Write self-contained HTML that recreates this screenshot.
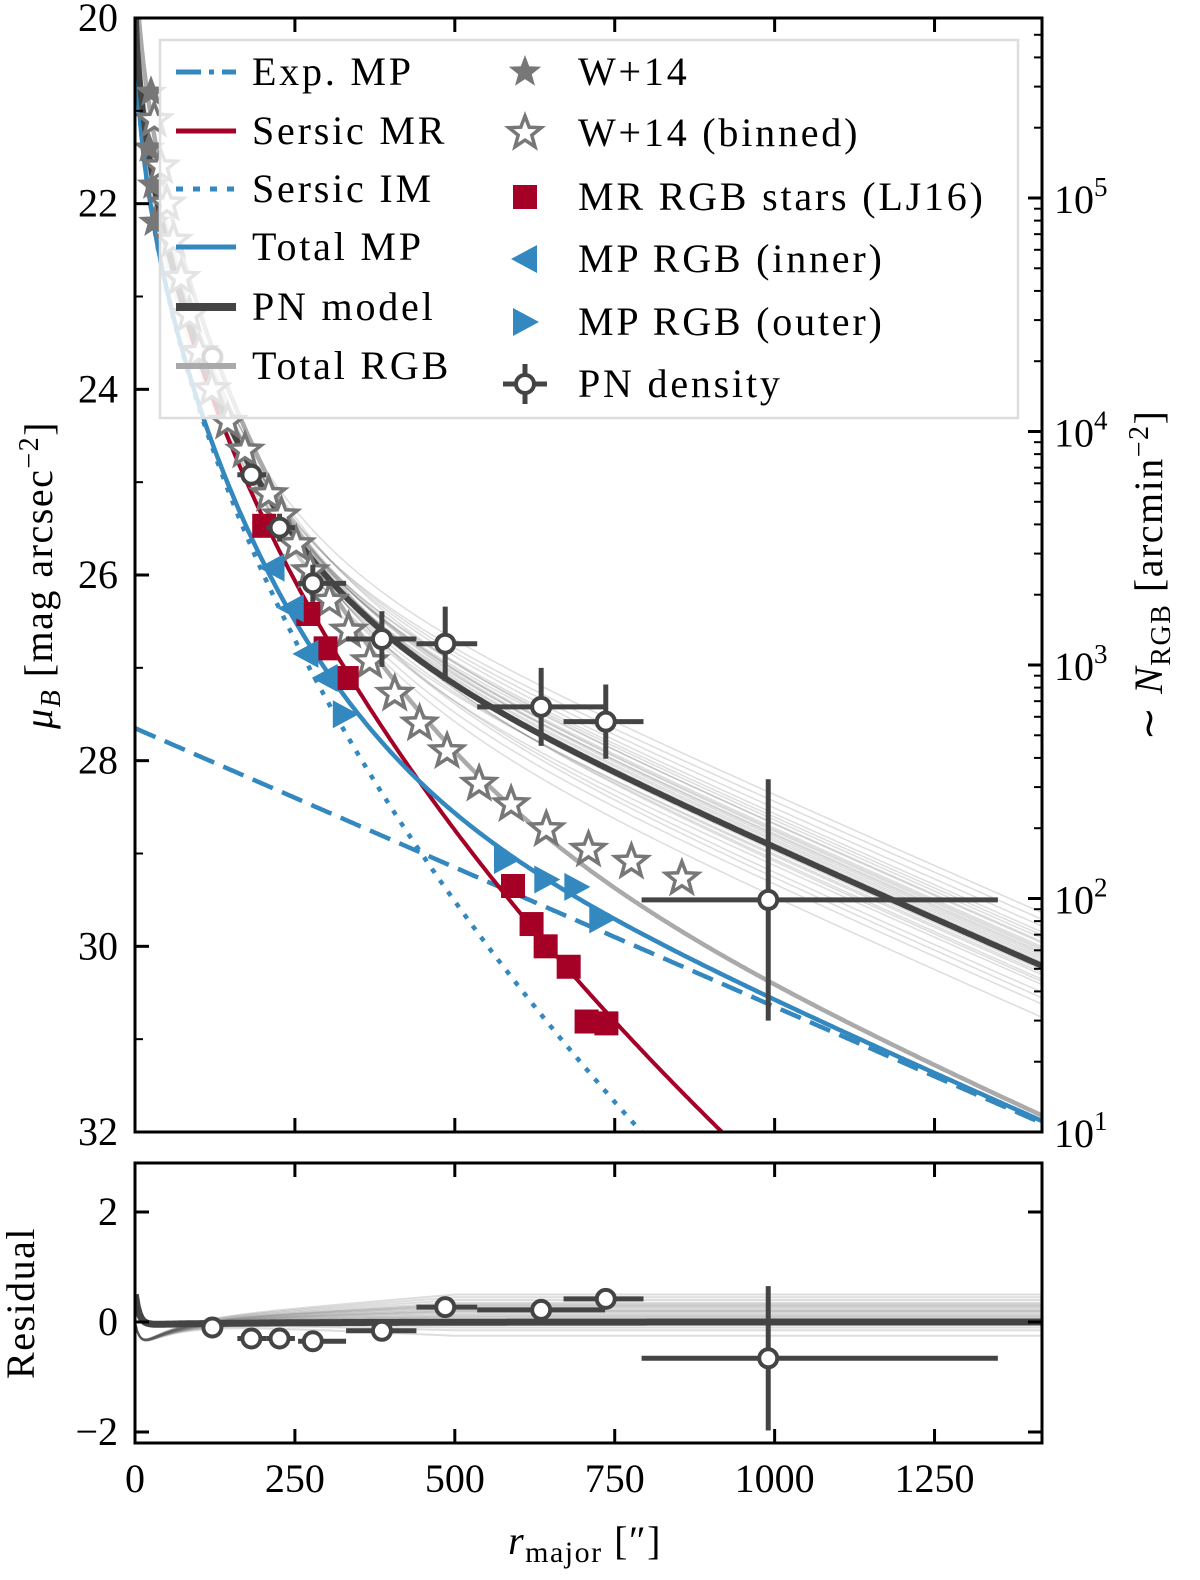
<!DOCTYPE html>
<html><head><meta charset="utf-8"><style>
html,body{margin:0;padding:0;background:#fff;}
svg{display:block;font-family:"Liberation Serif",serif;}
</style></head><body>
<svg id="chart" width="1200" height="1580" viewBox="0 0 1200 1580" xmlns="http://www.w3.org/2000/svg">
<defs>
<clipPath id="clipTop"><rect x="135" y="18" width="907" height="1114"/></clipPath>
<clipPath id="clipBot"><rect x="135" y="1163" width="907" height="280"/></clipPath>
</defs>
<g id="topPlot" clip-path="url(#clipTop)"></g>
<g id="botPlot" clip-path="url(#clipBot)"></g>
<g id="axes"></g>
<g id="legend"></g>
</svg>
<script>
// ---- data ----
const pnR = [121, 182, 226, 278, 386, 485, 635, 736, 990];
const pnMu = [23.65, 24.92, 25.49, 26.09, 26.69, 26.74, 27.42, 27.58, 29.50];
const pnXlo = [110, 160, 205, 255, 330, 440, 535, 670, 792];
const pnXhi = [135, 205, 250, 330, 440, 535, 735, 795, 1349];
const pnMuErr = [0.1, 0.12, 0.15, 0.2, 0.3, 0.4, 0.42, 0.4, 1.3];
const pnResid = [-0.1, -0.3, -0.3, -0.35, -0.16, 0.27, 0.22, 0.42, -0.66];
const pnResidErr = [0.3, 0.3, 0.3, 0.3, 0.3, 0.35, 0.4, 0.35, 2.5];
const w14R = [25, 22, 28, 30];
const w14Mu = [20.8, 21.4, 21.8, 22.2];
const binR = [30, 40, 50, 60, 72, 85, 100, 120, 145, 172, 209, 229, 252, 274, 304, 334, 367, 406, 445, 488, 538, 588, 643, 709, 776, 855];
const binMu = [21.1, 21.6, 22.0, 22.4, 22.8, 23.2, 23.6, 24.0, 24.35, 24.66, 25.13, 25.36, 25.67, 25.96, 26.28, 26.60, 26.93, 27.28, 27.60, 27.90, 28.25, 28.47, 28.74, 28.96, 29.09, 29.27];
const mrR = [202, 271, 298, 331, 591, 620, 642, 678, 706, 737];
const mrMu = [25.47, 26.42, 26.79, 27.11, 29.35, 29.76, 30.0, 30.22, 30.81, 30.83];
const innerR = [215, 245, 268, 298];
const innerMu = [25.92, 26.36, 26.85, 27.11];
const outerR = [328, 580, 643, 690, 729];
const outerMu = [27.5, 29.07, 29.28, 29.36, 29.71];
// model parameters
const mrParams = [19.58, 0.41];
const imParams = [19.9, 0.43];
const expParams = [27.65, 0.003];
const pnExpWeight = 4.7;
const bundleWeights = [3.2, 3.6, 3.9, 4.1, 4.3, 4.5, 4.6, 4.8, 5.0, 5.2, 5.4, 5.6, 5.9, 6.2, 6.6, 7.0, 7.5, 8.0, 2.8, 4.0, 4.4, 5.1, 5.5, 6.0, 4.7, 4.9, 5.3, 5.7, 3.4, 6.4];
const bundleMR = [1.0, 1.1, 0.9, 1.2, 0.95, 1.05, 1.15, 0.85, 1.0, 1.1, 0.9, 1.0, 1.2, 0.95, 1.05, 1.0, 0.9, 1.1, 1.0, 1.3, 0.8, 1.0, 1.1, 0.9, 1.05, 0.95, 1.1, 1.0, 1.15, 0.9];
const residOffsets = [-0.25, -0.15, -0.1, -0.05, 0.05, 0.1, 0.15, 0.2, 0.25, 0.3, 0.35, 0.4, 0.45, 0.5, 0.0, 0.12, 0.22, 0.32, 0.08, 0.18, 0.28];
const yTicks = [20, 22, 24, 26, 28, 30, 32];
const xTicks = [0, 250, 500, 750, 1000, 1250];
const rTicks = [2, -2, 0];
const logTicks = [1, 2, 3, 4, 5];

// ---- axes functions ----
const X0 = 135, X1 = 1042, XMAX = 1418;
const T0 = 18, T1 = 1132;
const B0 = 1163, B1 = 1443;
const sx = r => X0 + r / XMAX * (X1 - X0);
const sy = m => T0 + (m - 20) / 12 * (T1 - T0);
const sres = v => 1322 - v * 55;
const slog = d => 1132 - (d - 1) * 233.5;

const NS = "http://www.w3.org/2000/svg";
function mk(tag, attrs, parent) {
  const e = document.createElementNS(NS, tag);
  for (const k in attrs) e.setAttribute(k, attrs[k]);
  parent.appendChild(e);
  return e;
}
const top_ = document.getElementById('topPlot');
const bot = document.getElementById('botPlot');
const axes = document.getElementById('axes');
const leg = document.getElementById('legend');

const mr = r => mrParams[0] + mrParams[1] * Math.sqrt(r);
const im = r => imParams[0] + imParams[1] * Math.sqrt(r);
const ex = r => expParams[0] + expParams[1] * r;
const f = m => Math.pow(10, -0.4 * m);
const mag = fl => -2.5 * Math.log10(fl);
const totMP = r => mag(f(im(r)) + f(ex(r)));
const totRGB = r => mag(f(im(r)) + f(ex(r)) + f(mr(r)));
const pnModel = (r, w, a) => mag(a * f(mr(r)) + w * f(ex(r)));

function curve(fn, parent, style, name, ymap) {
  ymap = ymap || sy;
  let d = "";
  for (let r = 0.5; r <= XMAX + 2; r += 3) {
    const v = fn(r);
    d += (d ? "L" : "M") + sx(r).toFixed(1) + "," + ymap(v).toFixed(1);
  }
  const p = mk('path', Object.assign({d: d, fill: 'none'}, style), parent);
  
  
  return p;
}

bundleWeights.forEach((w, i) => {
  curve(r => pnModel(r, w, bundleMR[i]), top_, {stroke: '#555', 'stroke-width': 1.5, 'stroke-opacity': 0.2}, 'pn-model-sample');
});
curve(ex, top_, {stroke: '#3388bf', 'stroke-width': 4.5, 'stroke-dasharray': '22,10'}, 'exp-mp-curve');
curve(im, top_, {stroke: '#3388bf', 'stroke-width': 4.5, 'stroke-dasharray': '5,9'}, 'sersic-im-curve');
curve(mr, top_, {stroke: '#a50026', 'stroke-width': 4}, 'sersic-mr-curve');
curve(totMP, top_, {stroke: '#3388bf', 'stroke-width': 4.5}, 'total-mp-curve');
curve(totRGB, top_, {stroke: '#aaaaaa', 'stroke-width': 4.5}, 'total-rgb-curve');
curve(r => pnModel(r, pnExpWeight, 1), top_, {stroke: '#444', 'stroke-width': 6}, 'pn-model-curve');

function starPath(cx, cy, R) {
  let d = "";
  for (let i = 0; i < 10; i++) {
    const a = -Math.PI / 2 + i * Math.PI / 5;
    const rr = i % 2 ? R * 0.42 : R;
    d += (i ? "L" : "M") + (cx + rr * Math.cos(a)).toFixed(1) + "," + (cy + rr * Math.sin(a)).toFixed(1);
  }
  return d + "Z";
}
w14R.forEach((r, i) => {
  const s = mk('path', {d: starPath(sx(r), sy(w14Mu[i]), 17), fill: '#777'}, top_);
  
  
});
binR.forEach((r, i) => {
  const s = mk('path', {d: starPath(sx(r), sy(binMu[i]), 17), fill: '#fff', stroke: '#777', 'stroke-width': 3.5}, top_);
  
  
});
mrR.forEach((r, i) => {
  const s = mk('rect', {x: sx(r) - 12, y: sy(mrMu[i]) - 12, width: 24, height: 24, fill: '#a50026'}, top_);
  
  
});
innerR.forEach((r, i) => {
  const cx = sx(r), cy = sy(innerMu[i]);
  const s = mk('path', {d: `M${cx - 14},${cy}L${cx + 12},${cy - 14}L${cx + 12},${cy + 14}Z`, fill: '#3388bf'}, top_);
  
  
});
outerR.forEach((r, i) => {
  const cx = sx(r), cy = sy(outerMu[i]);
  const s = mk('path', {d: `M${cx + 14},${cy}L${cx - 12},${cy - 14}L${cx - 12},${cy + 14}Z`, fill: '#3388bf'}, top_);
  
  
});
function pnPoint(parent, r, v, lo, hi, err, ymap, name) {
  const g = mk('g', {}, parent);
  
  
  const cx = sx(r), cy = ymap(v);
  mk('line', {x1: sx(lo), x2: sx(hi), y1: cy, y2: cy, stroke: '#444', 'stroke-width': 5}, g);
  mk('line', {x1: cx, x2: cx, y1: ymap(v - err), y2: ymap(v + err), stroke: '#444', 'stroke-width': 5}, g);
  mk('circle', {cx: cx, cy: cy, r: 9, fill: '#fff', stroke: '#444', 'stroke-width': 4}, g);
}
pnR.forEach((r, i) => pnPoint(top_, r, pnMu[i], pnXlo[i], pnXhi[i], pnMuErr[i], sy, 'pn-density-point'));

residOffsets.forEach(o => {
  curve(r => o * Math.min(1, r / 500) - 0.25 * Math.exp(-r / 60) * (1 - Math.exp(-r / 8)) * 2, bot, {stroke: '#555', 'stroke-width': 2, 'stroke-opacity': 0.2}, 'residual-sample', sres);
});
curve(r => 0.6 * Math.exp(-r / 6) - 0.05 * Math.exp(-r / 200), bot, {stroke: '#444', 'stroke-width': 7}, 'residual-zero-line', sres);
pnR.forEach((r, i) => pnPoint(bot, r, pnResid[i], pnXlo[i], pnXhi[i], pnResidErr[i] / 2 * (i === 8 ? 1.05 : 1), sres, 'residual-point'));

function frame(y0, y1, name) {
  const rct = mk('rect', {x: X0, y: y0, width: X1 - X0, height: y1 - y0, fill: 'none', stroke: '#000', 'stroke-width': 3}, axes);
  
  
}
frame(T0, T1, 'main-frame');
frame(B0, B1, 'residual-frame');
function txt(s, x, y, anchor, name, size) {
  const t = mk('text', {x: x, y: y, 'text-anchor': anchor, 'font-size': size || 40, fill: '#000'}, axes);
  t.textContent = s;
  
  
  return t;
}
yTicks.forEach(v => {
  const y = sy(v);
  mk('line', {x1: X0, x2: X0 + 14, y1: y, y2: y, stroke: '#000', 'stroke-width': 3}, axes);
  txt(String(v), 118, y + 13, 'end', 'y-tick-label');
});
for (let v = 21; v < 32; v += 2) {
  mk('line', {x1: X0, x2: X0 + 8, y1: sy(v), y2: sy(v), stroke: '#000', 'stroke-width': 2}, axes);
}
xTicks.forEach(v => {
  const x = sx(v);
  [[T0, T0 + 14], [T1, T1 - 14], [B0, B0 + 14], [B1, B1 - 14]].forEach(p => mk('line', {x1: x, x2: x, y1: p[0], y2: p[1], stroke: '#000', 'stroke-width': 3}, axes));
  txt(String(v), x, 1492, 'middle', 'x-tick-label');
});
rTicks.forEach(v => {
  const y = sres(v);
  mk('line', {x1: X0, x2: X0 + 14, y1: y, y2: y, stroke: '#000', 'stroke-width': 3}, axes);
  mk('line', {x1: X1, x2: X1 - 14, y1: y, y2: y, stroke: '#000', 'stroke-width': 3}, axes);
  txt(v < 0 ? '\u2212' + Math.abs(v) : String(v), 118, y + 13, 'end', 'residual-tick-label');
});
logTicks.forEach(d => {
  const y = slog(d);
  mk('line', {x1: X1, x2: X1 - 14, y1: y, y2: y, stroke: '#000', 'stroke-width': 3}, axes);
  const t = txt('10', 1054, y + 15, 'start', 'right-tick-label');
  const s = mk('tspan', {dy: -17, 'font-size': 27}, t);
  s.textContent = String(d);
  for (let k = 2; k < 10; k++) {
    const yy = slog(d + Math.log10(k));
    if (yy > T0) mk('line', {x1: X1, x2: X1 - 8, y1: yy, y2: yy, stroke: '#000', 'stroke-width': 2}, axes);
  }
});
let t = mk('text', {transform: 'translate(52,575) rotate(-90)', 'text-anchor': 'middle', 'font-size': 40, 'letter-spacing': 1.5}, axes);


t.innerHTML = '<tspan font-style="italic">μ</tspan><tspan font-size="28" dy="8" font-style="italic">B</tspan><tspan dy="-8"> [mag arcsec</tspan><tspan font-size="28" dy="-14">−2</tspan><tspan dy="14">]</tspan>';
t = mk('text', {transform: 'translate(1162,575) rotate(-90)', 'text-anchor': 'middle', 'font-size': 40, 'letter-spacing': 1.5}, axes);


t.innerHTML = '∼ <tspan font-style="italic">N</tspan><tspan font-size="28" dy="8">RGB</tspan><tspan dy="-8"> [arcmin</tspan><tspan font-size="28" dy="-14">−2</tspan><tspan dy="14">]</tspan>';
t = mk('text', {transform: 'translate(34,1303) rotate(-90)', 'text-anchor': 'middle', 'font-size': 40, 'letter-spacing': 1.5}, axes);


t.textContent = 'Residual';
t = mk('text', {x: 585, y: 1554, 'text-anchor': 'middle', 'font-size': 40, 'letter-spacing': 1.5}, axes);


t.innerHTML = '<tspan font-style="italic">r</tspan><tspan font-size="30" dy="8">major</tspan><tspan dy="-8"> [″]</tspan>';

const lb = mk('rect', {x: 160, y: 40, width: 858, height: 378, fill: '#fff', 'fill-opacity': 0.8, stroke: '#ddd', 'stroke-width': 2.5}, leg);


const leftItems = [
  ['Exp. MP', {stroke: '#3388bf', 'stroke-width': 5, 'stroke-dasharray': '25,8,5,8'}],
  ['Sersic MR', {stroke: '#a50026', 'stroke-width': 5}],
  ['Sersic IM', {stroke: '#3388bf', 'stroke-width': 5, 'stroke-dasharray': '7,10'}],
  ['Total MP', {stroke: '#3388bf', 'stroke-width': 5}],
  ['PN model', {stroke: '#444', 'stroke-width': 8}],
  ['Total RGB', {stroke: '#aaa', 'stroke-width': 6}]
];
const lY = [72, 131, 189, 247, 307, 366];
leftItems.forEach((it, i) => {
  const g = mk('g', {}, leg);
  
  
  mk('line', Object.assign({x1: 176, x2: 236, y1: lY[i], y2: lY[i]}, it[1]), g);
  const tt = mk('text', {x: 252, y: lY[i] + 13, 'font-size': 40, 'letter-spacing': 2.8}, g);
  tt.textContent = it[0];
});
const rY = [72, 133, 197, 259, 322, 384];
const rLabels = ['W+14', 'W+14 (binned)', 'MR RGB stars (LJ16)', 'MP RGB (inner)', 'MP RGB (outer)', 'PN density'];
rLabels.forEach((s, i) => {
  const g = mk('g', {}, leg);
  
  
  const cx = 525, cy = rY[i];
  if (i === 0) mk('path', {d: starPath(cx, cy, 17), fill: '#777'}, g);
  if (i === 1) mk('path', {d: starPath(cx, cy, 17), fill: '#fff', stroke: '#777', 'stroke-width': 3.5}, g);
  if (i === 2) mk('rect', {x: cx - 12, y: cy - 12, width: 24, height: 24, fill: '#a50026'}, g);
  if (i === 3) mk('path', {d: `M${cx - 14},${cy}L${cx + 12},${cy - 14}L${cx + 12},${cy + 14}Z`, fill: '#3388bf'}, g);
  if (i === 4) mk('path', {d: `M${cx + 14},${cy}L${cx - 12},${cy - 14}L${cx - 12},${cy + 14}Z`, fill: '#3388bf'}, g);
  if (i === 5) {
    mk('line', {x1: cx - 22, x2: cx + 22, y1: cy, y2: cy, stroke: '#444', 'stroke-width': 5}, g);
    mk('line', {x1: cx, x2: cx, y1: cy - 20, y2: cy + 20, stroke: '#444', 'stroke-width': 5}, g);
    mk('circle', {cx: cx, cy: cy, r: 9, fill: '#fff', stroke: '#444', 'stroke-width': 4}, g);
  }
  const tt = mk('text', {x: 578, y: cy + 13, 'font-size': 40, 'letter-spacing': 2.8}, g);
  tt.textContent = s;
});
</script>
</body></html>
